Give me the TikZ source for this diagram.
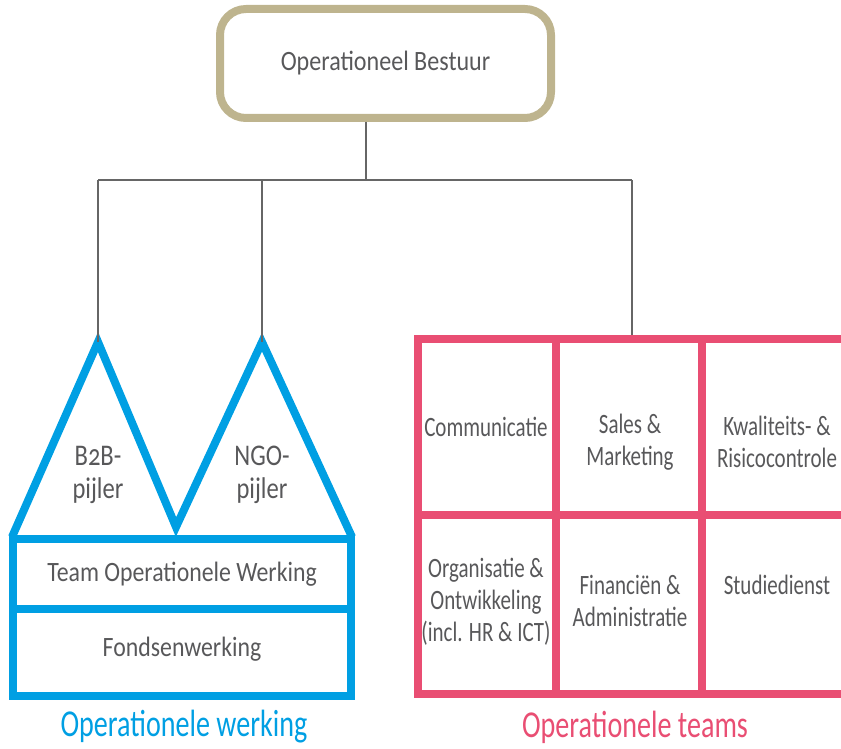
\documentclass[tikz,border=0pt]{standalone}
\usepackage{fontspec}
\setmainfont{Carlito}[FakeStretch=0.92]
\newfontfamily\titlefont{Carlito}[FakeStretch=0.86]
\newfontfamily\widefont{Carlito}[FakeStretch=0.85]
\newfontfamily\narrowfont{Carlito}[FakeStretch=0.75, Numbers=OldStyle]
\newfontfamily\pijlerfont{Carlito}[FakeStretch=0.82, Numbers=OldStyle]
\newfontfamily\capfont{Carlito}[FakeStretch=0.74]
\definecolor{tan}{HTML}{BEB48E}
\definecolor{bl}{HTML}{009FE3}
\definecolor{pk}{HTML}{E94E73}
\definecolor{txt}{HTML}{58585A}
\definecolor{con}{HTML}{666666}
\tikzset{
  conn/.style={draw=con, line width=2pt},
  lbl/.style={text=txt, font=\narrowfont\fontsize{28}{32}\selectfont, align=center, inner sep=0pt},
  plbl/.style={text=txt, font=\pijlerfont\fontsize{30}{33}\selectfont, align=center, inner sep=0pt},
  wlbl/.style={text=txt, font=\widefont\fontsize{28}{32}\selectfont, align=center, inner sep=0pt},
  blueline/.style={draw=bl, line width=8pt, line join=miter},
  pinkline/.style={draw=pk, line width=8pt},
  caption/.style={font=\capfont\fontsize{38}{42}\selectfont, inner sep=0pt}
}
\begin{document}
\begin{tikzpicture}[x=1pt,y=-1pt]
\useasboundingbox (0,0) rectangle (841,749);
\clip (0,0) rectangle (841,749);
% top box
\node[draw=tan, line width=8pt, rounded corners=26pt, minimum width=331pt, minimum height=109pt, inner sep=0pt,
      text=txt, font=\titlefont\fontsize{28}{32}\selectfont] (top) at (385.5,63.5) {Operationeel Bestuur};
% coordinates
\coordinate (hub) at (366,180);
\coordinate (hl) at (98,180);
\coordinate (hm) at (262,180);
\coordinate (hr) at (632,180);
\coordinate (apexA) at (98,342);
\coordinate (apexB) at (262,342);
\coordinate (vbot) at (176,527);
\coordinate (bl1) at (12,537);
\coordinate (br1) at (352,537);
% blue shape
\draw[blueline] (bl1) -- (apexA) -- (vbot) -- (apexB) -- (br1);
\draw[blueline] (13,539) rectangle (351,696);
\draw[blueline] (13,609) -- (351,609);
% pink grid
\draw[pinkline] (418,339) rectangle (852,694);
\draw[pinkline] (556,339) -- (556,694);
\draw[pinkline] (702,339) -- (702,694);
\draw[pinkline] (418,515) -- (852,515);
\coordinate (gridtop) at (632,335);
% connectors
\draw[conn] (hub |- top.south) -- (hub);
\draw[conn] (hl) -- (hr);
\draw[conn] (hl) -- (apexA);
\draw[conn] (hm) -- (apexB);
\draw[conn] (hr) -- (gridtop);
% blue labels
\node[plbl] (b2b) at (98,475) {B2B-\\pijler};
\node[plbl] (ngo) at (262,475) {NGO-\\pijler};
\node[wlbl] (tow) at (182,574) {Team Operationele Werking};
\node[wlbl] (fond) at (182,649) {Fondsenwerking};
% pink labels
\node[lbl] (comm) at (486,427) {Communicatie};
\node[lbl] (sales) at (630,442) {Sales \&\\Marketing};
\node[lbl] (kwal) at (777,442) {Kwaliteits- \&\\Risicocontrole};
\node[lbl] (org) at (486,602) {Organisatie \&\\Ontwikkeling\\(incl. HR \& ICT)};
\node[lbl] (fin) at (630,601) {Financiën \&\\Administratie};
\node[lbl] (stud) at (777,585) {Studiedienst};
% captions
\node[caption, text=bl] (capL) at (184,727) {Operationele werking};
\node[caption, text=pk] (capR) at (635,727) {Operationele teams};
\end{tikzpicture}
\end{document}
